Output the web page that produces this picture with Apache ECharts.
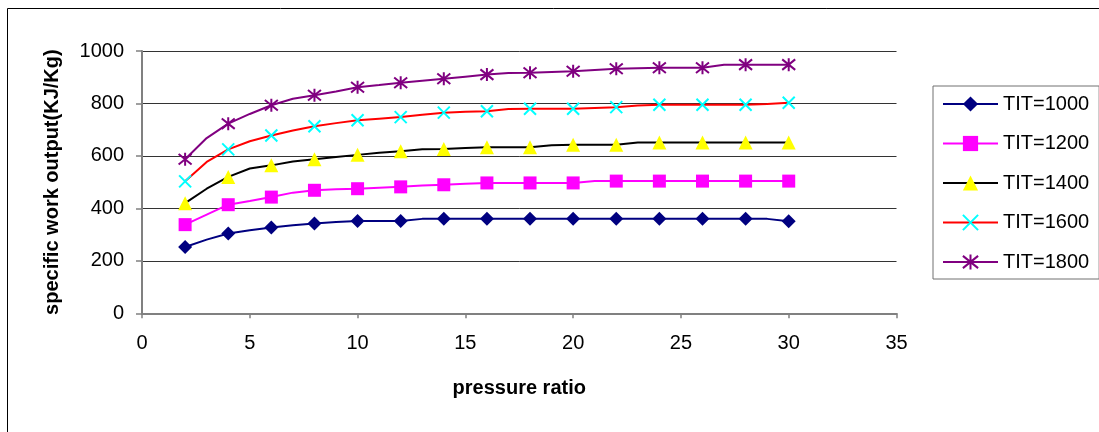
<!DOCTYPE html>
<html>
<head>
<meta charset="utf-8">
<script src="https://cdn.jsdelivr.net/npm/echarts@6/dist/echarts.min.js"></script>
<style>
  html, body { margin: 0; padding: 0; background: #fff; }
  #chart { width: 1099px; height: 432px; }
</style>
</head>
<body>
<div id="chart"></div>
<script>
// Pressure ratios (every integer; markers are drawn on the even ones)
const pressureRatio = [2,3,4,5,6,7,8,9,10,11,12,13,14,15,16,17,18,19,20,21,22,23,24,25,26,27,28,29,30];

// Specific work output (KJ/Kg) for each turbine inlet temperature
const tit1000 = [253,281,304,317,327,336,342,348,352,352,352,360,360,360,360,360,360,360,360,360,360,360,360,360,360,360,360,360,351];
const tit1200 = [338,376,414,428,443,460,469,473,475,479,482,487,490,494,497,497,497,497,497,504,504,504,504,504,504,504,504,504,504];
const tit1400 = [420,475,520,552,564,579,587,596,604,612,618,625,626,630,633,633,633,641,643,643,643,651,651,651,651,651,651,651,651];
const tit1600 = [503,577,625,656,678,697,713,725,736,742,748,757,765,768,770,779,780,780,780,783,786,792,795,795,795,795,795,798,803];
const tit1800 = [587,668,723,760,793,818,831,846,862,870,879,887,894,902,910,916,917,920,923,928,932,934,936,936,936,948,948,948,948];

const seriesNames = ['TIT=1000', 'TIT=1200', 'TIT=1400', 'TIT=1600', 'TIT=1800'];
const xTicks = { min: 0, max: 35, step: 5 };
const yTicks = { min: 0, max: 1000, step: 200 };

const FONT = '"Liberation Sans", Arial, sans-serif';

const crossPath = 'path://M0,0L10,10M10,0L0,10';
const starPath = 'path://M0,0L10,10M10,0L0,10M5,-1.2L5,11.2';

function points(values) {
  return pressureRatio.map((x, i) => {
    const item = { value: [x, values[i]] };
    if (x % 2 !== 0) item.symbol = 'none';
    return item;
  });
}

function lineSeries(name, values, lineColor, symbol, symbolSize, itemStyle) {
  return {
    name: name,
    type: 'line',
    data: points(values),
    symbol: symbol,
    symbolSize: symbolSize,
    showAllSymbol: true,
    smooth: false,
    lineStyle: { color: lineColor, width: 2 },
    itemStyle: itemStyle,
    emphasis: { disabled: true },
    z: 3
  };
}

const chart = echarts.init(document.getElementById('chart'), null, { renderer: 'canvas' });

chart.setOption({
  animation: false,
  backgroundColor: '#ffffff',
  grid: { left: 142, right: 202.5, top: 51, bottom: 118.7, containLabel: false },
  xAxis: {
    type: 'value',
    min: xTicks.min, max: xTicks.max, interval: xTicks.step,
    name: 'pressure ratio',
    nameLocation: 'middle',
    nameGap: 65,
    nameTextStyle: { fontFamily: FONT, fontWeight: 'bold', fontSize: 20, color: '#000' },
    axisLine: { show: true, onZero: false, lineStyle: { color: '#808080', width: 2 } },
    axisTick: { show: true, inside: false, length: 5, lineStyle: { color: '#808080', width: 1.5 } },
    axisLabel: { fontFamily: FONT, fontSize: 20, color: '#000', margin: 20, formatter: (v) => String(v) },
    splitLine: { show: false }
  },
  yAxis: {
    type: 'value',
    min: yTicks.min, max: yTicks.max, interval: yTicks.step,
    name: 'specific work output(KJ/Kg)',
    nameLocation: 'middle',
    nameRotate: 90,
    nameGap: 80,
    nameTextStyle: { fontFamily: FONT, fontWeight: 'bold', fontSize: 20, color: '#000' },
    axisLine: { show: true, lineStyle: { color: '#808080', width: 2 } },
    axisTick: { show: true, inside: false, length: 6, lineStyle: { color: '#808080', width: 1.5 } },
    axisLabel: { fontFamily: FONT, fontSize: 20, color: '#000', margin: 18, formatter: (v) => String(v) },
    splitLine: { show: true, lineStyle: { color: '#333333', width: 1 } }
  },
  legend: {
    orient: 'vertical',
    left: 933,
    top: 86,
    padding: [8, 10, 7, 9],
    itemWidth: 55,
    itemHeight: 19,
    itemGap: 19.5,
    borderColor: '#707070',
    borderWidth: 1,
    backgroundColor: '#ffffff',
    textStyle: { fontFamily: FONT, fontSize: 20, lineHeight: 19, color: '#000' },
    data: seriesNames
  },
  series: [
    lineSeries(seriesNames[0], tit1000, '#000080', 'diamond', 14, { color: '#000080', borderWidth: 0 }),
    lineSeries(seriesNames[1], tit1200, '#FF00FF', 'rect', 13, { color: '#FF00FF', borderWidth: 0 }),
    lineSeries(seriesNames[2], tit1400, '#000000', 'triangle', 14, { color: '#FFFF00', borderWidth: 0 }),
    lineSeries(seriesNames[3], tit1600, '#FF0000', crossPath, 12, { color: '#00FFFF', borderColor: '#00FFFF', borderWidth: 2 }),
    lineSeries(seriesNames[4], tit1800, '#800080', starPath, 13, { color: '#800080', borderColor: '#800080', borderWidth: 2 })
  ],
  graphic: [
    {
      type: 'rect',
      silent: true,
      shape: { x: 7.5, y: 8.5, width: 1200, height: 1000 },
      style: { fill: 'none', stroke: '#000000', lineWidth: 1 },
      z: 0
    }
  ]
});
</script>
</body>
</html>
